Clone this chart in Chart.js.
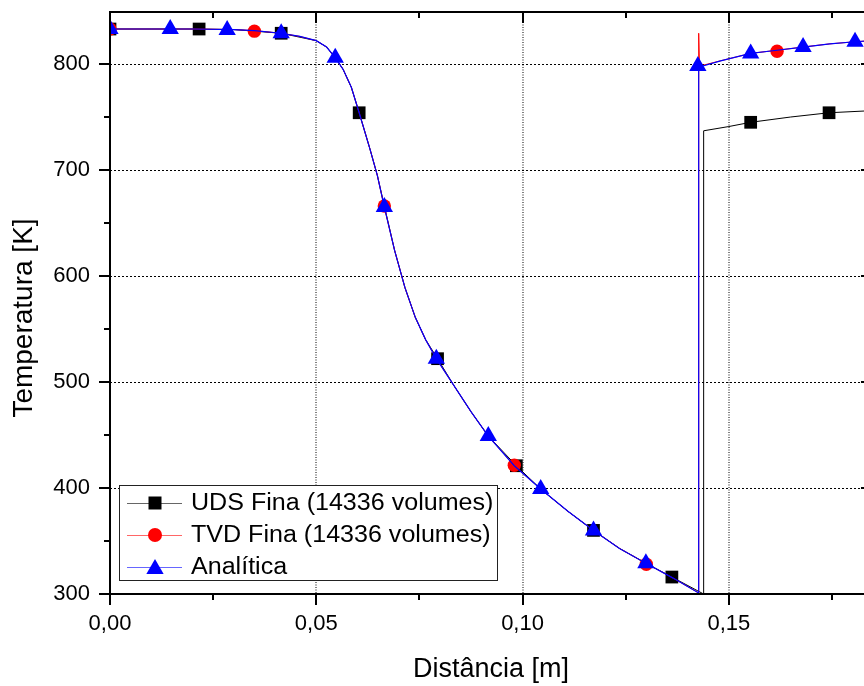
<!DOCTYPE html>
<html><head><meta charset="utf-8">
<script src="https://cdn.jsdelivr.net/npm/chart.js@4.4.1/dist/chart.umd.min.js"></script>
<style>html,body{margin:0;padding:0;overflow:hidden;background:#fff}canvas{display:block}</style>
</head><body>
<canvas id="c" width="882" height="686"></canvas>
<script>
// ---------- data ----------
const seriesNames = ['UDS Fina (14336 volumes)', 'TVD Fina (14336 volumes)', 'Analítica'];
const xTitle = 'Distância [m]';
const yTitle = 'Temperatura [K]';
const xTickValues = [0, 0.05, 0.10, 0.15];
const xTickLabels = ['0,00', '0,05', '0,10', '0,15'];
const xMinorTicks = [0.025, 0.075, 0.125, 0.175];
const yTickValues = [300, 400, 500, 600, 700, 800];
const yTickLabels = ['300', '400', '500', '600', '700', '800'];
const yMinorTicks = [350, 450, 550, 650, 750];

// UDS (black) line and markers
const udsLineX = [0, 0.02, 0.03, 0.0415, 0.05, 0.0525, 0.0546, 0.0565, 0.0585, 0.0604, 0.063, 0.0648, 0.0665, 0.069, 0.0715, 0.074, 0.0765, 0.0794, 0.0833, 0.0875, 0.0917, 0.0985, 0.1044, 0.111, 0.1172, 0.1235, 0.1299, 0.1362, 0.1439, 0.1439, 0.150, 0.1553, 0.165, 0.1743, 0.1847];
const udsLineY = [833, 833, 832.5, 829, 822, 816, 806, 795, 778, 754, 720, 695, 666, 624, 589, 561, 540, 522, 497, 472, 449, 421, 399, 378, 360, 343, 329, 316, 300, 737, 741, 745, 750, 754, 756];
const udsMarkX = [0, 0.0216, 0.0415, 0.0604, 0.0794, 0.0985, 0.1172, 0.1362, 0.1553, 0.1743];
const udsMarkY = [833, 833, 829, 754, 522, 421, 360, 316, 745, 754];

// TVD (red) line and markers
const tvdLineX = [0, 0.01, 0.02, 0.03, 0.035, 0.0415, 0.046, 0.05, 0.0525, 0.0546, 0.0565, 0.0585, 0.0604, 0.063, 0.0648, 0.0665, 0.069, 0.0715, 0.074, 0.0765, 0.0791, 0.0833, 0.0875, 0.0917, 0.098, 0.1044, 0.111, 0.1172, 0.1235, 0.1299, 0.1365, 0.1427, 0.1427, 0.1429, 0.148, 0.1553, 0.1617, 0.168, 0.1745, 0.1806, 0.1847];
const tvdLineY = [833, 833, 833, 832.5, 831.5, 829, 826, 822, 816, 806, 795, 778, 754, 720, 695, 665, 624, 589, 561, 540, 522, 497, 472, 449, 421, 399, 378, 360, 343, 329, 315, 301, 829, 798, 803, 810, 813, 816, 819, 821, 822];
const tvdMarkX = [0, 0.035, 0.0665, 0.098, 0.130, 0.1617];
const tvdMarkY = [833, 831, 666, 421.5, 328, 812];

// Analytic (blue) line and markers
const anaLineX = [0, 0.01, 0.02, 0.03, 0.035, 0.0415, 0.046, 0.05, 0.0525, 0.0546, 0.0565, 0.0585, 0.0604, 0.063, 0.0648, 0.0665, 0.069, 0.0715, 0.074, 0.0765, 0.0791, 0.0833, 0.0875, 0.0917, 0.098, 0.1044, 0.111, 0.1172, 0.1235, 0.1299, 0.1365, 0.1427, 0.1427, 0.148, 0.1553, 0.1617, 0.168, 0.1745, 0.1806, 0.1847];
const anaLineY = [833, 833, 833, 832.5, 831.5, 829, 826, 822, 816, 806, 795, 778, 754, 720, 695, 665, 624, 589, 561, 540, 522, 497, 472, 449, 421, 399, 378, 360, 343, 329, 315, 301, 797, 803, 810, 813, 816, 819, 821, 822];
const anaMarkX = [0, 0.0146, 0.0284, 0.0415, 0.0546, 0.0665, 0.0791, 0.0917, 0.1044, 0.1172, 0.1299, 0.1425, 0.1553, 0.168, 0.1806];
const anaMarkY = [833, 833, 832, 829, 806, 665, 522, 449, 399, 360, 329, 798, 810, 816, 821];

// ---------- chart ----------
const pts = (xs, ys) => xs.map((x, i) => ({x: x, y: ys[i]}));
const FONT = '"Liberation Sans", Arial, sans-serif';
const isMajorX = v => xTickValues.some(t => Math.abs(t - v) < 1e-6);
const isMajorY = v => yTickValues.some(t => Math.abs(t - v) < 1e-6);
const colors = ['#000000', '#ff0000', '#0000ff'];

const framePlugin = {
  id: 'frame',
  afterDraw(chart) {
    const {ctx, chartArea: a, scales: {x, y}} = chart;
    ctx.save();
    ctx.strokeStyle = '#000';
    ctx.lineWidth = 2;
    const line = (x1, y1, x2, y2) => { ctx.beginPath(); ctx.moveTo(x1, y1); ctx.lineTo(x2, y2); ctx.stroke(); };
    x.ticks.forEach(t => {
      const px = Math.round(x.getPixelForValue(t.value));
      const L = isMajorX(t.value) ? 11 : 6;
      line(px, a.bottom, px, a.bottom + L);
      line(px, a.top, px, a.top + L);
    });
    y.ticks.forEach(t => {
      const py = Math.round(y.getPixelForValue(t.value));
      const L = isMajorY(t.value) ? 11 : 6;
      line(a.left - L, py, a.left, py);
      line(a.right - L, py, a.right, py);
    });
    ctx.strokeRect(a.left, a.top, a.right - a.left, a.bottom - a.top);

    // y axis title (rotated text)
    ctx.save();
    ctx.translate(24, 318);
    ctx.rotate(-Math.PI / 2);
    ctx.font = '28px ' + FONT;
    ctx.fillStyle = '#000';
    ctx.textAlign = 'center';
    ctx.textBaseline = 'middle';
    ctx.fillText(yTitle, 0, 0);
    ctx.restore();

    // legend
    const bx = 119, by = 485, bw = 378, bh = 95;
    ctx.fillStyle = '#fff';
    ctx.fillRect(bx, by, bw, bh);
    ctx.lineWidth = 1;
    ctx.strokeStyle = '#222';
    ctx.strokeRect(bx + 0.5, by + 0.5, bw, bh);
    const rows = [503, 535, 567];
    seriesNames.forEach((name, i) => {
      const ry = rows[i];
      ctx.strokeStyle = colors[i];
      ctx.globalAlpha = 0.6;
      ctx.lineWidth = 1;
      line(127, ry + 0.5, 182, ry + 0.5);
      ctx.globalAlpha = 1;
      ctx.fillStyle = colors[i];
      const cx = 155;
      ctx.beginPath();
      if (i === 0) {
        ctx.rect(cx - 6.5, ry - 6.5, 13, 13);
      } else if (i === 1) {
        ctx.arc(cx, ry, 7, 0, Math.PI * 2);
      } else {
        const r = 10;
        for (let k = 0; k < 3; k++) {
          const ang = k * 2 * Math.PI / 3;
          const px = cx + Math.sin(ang) * r, py = ry + 2 - Math.cos(ang) * r;
          if (k === 0) ctx.moveTo(px, py); else ctx.lineTo(px, py);
        }
        ctx.closePath();
      }
      ctx.fill();
      ctx.save();
      ctx.translate(191, ry + 1);
      ctx.scale(1.09, 1);
      ctx.font = '23px ' + FONT;
      ctx.textBaseline = 'middle';
      ctx.textAlign = 'left';
      ctx.fillStyle = '#000';
      ctx.fillText(name, 0, 0);
      ctx.restore();
    });
    ctx.restore();
  }
};

new Chart(document.getElementById('c'), {
  type: 'scatter',
  data: {
    datasets: [
      {label: seriesNames[0] + ' line', data: pts(udsLineX, udsLineY), showLine: true, borderColor: colors[0], borderWidth: 1, pointRadius: 0, order: 5},
      {label: seriesNames[0], data: pts(udsMarkX, udsMarkY), showLine: false, pointStyle: 'rect', pointRadius: 9, backgroundColor: colors[0], borderColor: colors[0], borderWidth: 0, order: 4},
      {label: seriesNames[1] + ' line', data: pts(tvdLineX, tvdLineY), showLine: true, borderColor: colors[1], borderWidth: 1, pointRadius: 0, order: 3},
      {label: seriesNames[1], data: pts(tvdMarkX, tvdMarkY), showLine: false, pointStyle: 'circle', pointRadius: 6.7, backgroundColor: colors[1], borderColor: colors[1], borderWidth: 0, order: 2},
      {label: seriesNames[2] + ' line', data: pts(anaLineX, anaLineY), showLine: true, borderColor: colors[2], borderWidth: 1.2, pointRadius: 0, order: 1},
      {label: seriesNames[2], data: pts(anaMarkX, anaMarkY), showLine: false, pointStyle: 'triangle', pointRadius: 10, backgroundColor: colors[2], borderColor: colors[2], borderWidth: 0, order: 0}
    ]
  },
  options: {
    responsive: false,
    devicePixelRatio: 1,
    animation: false,
    events: [],
    layout: {padding: {left: 0, right: 1, top: 12, bottom: 0}},
    plugins: {legend: {display: false}, tooltip: {enabled: false}},
    scales: {
      x: {
        type: 'linear', min: 0, max: 0.18471,
        afterBuildTicks: s => { s.ticks = xTickValues.concat(xMinorTicks).sort((a, b) => a - b).map(v => ({value: v})); },
        afterFit: s => { s.height = 92; s.paddingLeft = 0; s.paddingRight = 0; },
        border: {display: false, dash: [1, 1.5]},
        grid: {
          drawTicks: false,
          color: c => (c.tick && isMajorX(c.tick.value) && c.tick.value > 0) ? 'rgba(0,0,0,0.5)' : 'rgba(0,0,0,0)',
          lineWidth: 2
        },
        ticks: {
          autoSkip: false, maxRotation: 0, padding: 17,
          color: '#000', font: {size: 22, family: FONT},
          callback: v => { const i = xTickValues.findIndex(t => Math.abs(t - v) < 1e-6); return i >= 0 ? xTickLabels[i] : ''; }
        },
        title: {display: true, text: xTitle, color: '#000', font: {size: 27, family: FONT}, padding: {top: 0, bottom: 0}}
      },
      y: {
        type: 'linear', min: 300, max: 849.06,
        afterBuildTicks: s => { s.ticks = yTickValues.concat(yMinorTicks).sort((a, b) => a - b).map(v => ({value: v})); },
        afterFit: s => { s.width = 110; s.paddingTop = 0; s.paddingBottom = 0; },
        border: {display: false, dash: [2, 2]},
        grid: {
          drawTicks: false,
          color: c => (c.tick && isMajorY(c.tick.value) && c.tick.value > 300) ? '#000' : 'rgba(0,0,0,0)',
          lineWidth: 1
        },
        ticks: {
          autoSkip: false, padding: 20,
          color: '#000', font: {size: 22, family: FONT},
          callback: v => { const i = yTickValues.findIndex(t => Math.abs(t - v) < 1e-6); return i >= 0 ? yTickLabels[i] : ''; }
        },
        title: {display: false}
      }
    }
  },
  plugins: [framePlugin]
});
</script>
</body></html>
